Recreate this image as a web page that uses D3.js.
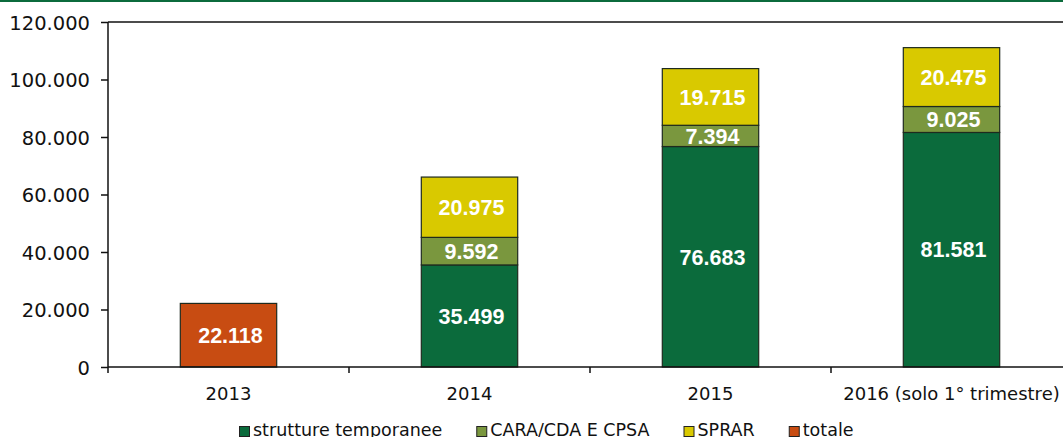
<!DOCTYPE html>
<html>
<head>
  <meta charset="utf-8">
  <style>
    body { margin: 0; background: #fff; }
    svg text { font-family: "DejaVu Sans", sans-serif; fill: #111; }
  </style>
  <title>Presenze nelle strutture di accoglienza</title>
</head>
<body>
  <script src="https://cdn.jsdelivr.net/npm/d3@7"></script>
  <script>
    // chart data
    var years = ["2013", "2014", "2015", "2016 (solo 1° trimestre)"];
    var series = ["strutture temporanee", "CARA/CDA E CPSA", "SPRAR", "totale"];
    var strutture = [0, 35499, 76683, 81581];
    var cara = [0, 9592, 7394, 9025];
    var sprar = [0, 20975, 19715, 20475];
    var totale = [22118, 0, 0, 0];
    var yTicks = [0, 20000, 40000, 60000, 80000, 100000, 120000];

    var colors = ["#0b6b3c", "#7a973e", "#d9c900", "#c84c12"];

    // plot box (note: "top" is reserved on window, so use a margin object)
    var W = 1063, H = 437;
    var plot = { left: 108, right: 1072, top: 22, bottom: 367 };

    var svg = d3.select("body").append("svg")
      .attr("width", W)
      .attr("height", H);

    // green rule at the top of the page
    svg.append("rect")
      .attr("x", 0).attr("y", 0)
      .attr("width", W).attr("height", 2)
      .attr("fill", "#0b6b3c");

    var x = d3.scaleBand()
      .domain(years)
      .range([plot.left, plot.right])
      .paddingInner(0.6)
      .paddingOuter(0.3);

    var y = d3.scaleLinear()
      .domain([0, 120000])
      .range([plot.bottom, plot.top]);

    var it = d3.formatLocale({ decimal: ",", thousands: ".", grouping: [3], currency: ["", ""] });
    var fmt = it.format(",d");

    // build rows for stacking
    var rows = years.map(function (yr, i) {
      return { year: yr, s0: strutture[i], s1: cara[i], s2: sprar[i], s3: totale[i] };
    });
    var stack = d3.stack().keys(["s0", "s1", "s2", "s3"]);
    var layers = stack(rows);

    var g = svg.selectAll("g.layer")
      .data(layers)
      .enter().append("g")
      .attr("class", "layer")
      .attr("fill", function (d, i) { return colors[i]; });

    g.selectAll("rect")
      .data(function (d) { return d.filter(function (p) { return p[1] - p[0] > 0; }); })
      .enter().append("rect")
      .attr("x", function (d) { return x(d.data.year); })
      .attr("y", function (d) { return y(d[1]); })
      .attr("width", x.bandwidth())
      .attr("height", function (d) { return y(d[0]) - y(d[1]); })
      .attr("stroke", "#1e2a1e")
      .attr("stroke-width", 1.2);

    // value labels
    g.selectAll("text")
      .data(function (d) { return d.filter(function (p) { return p[1] - p[0] > 0; }); })
      .enter().append("text")
      .attr("x", function (d) { return x(d.data.year) + x.bandwidth() / 2 + 2; })
      .attr("y", function (d) { return (y(d[0]) + y(d[1])) / 2; })
      .attr("dy", "0.36em")
      .attr("text-anchor", "middle")
      .style("font-family", "'Liberation Sans', Arial, sans-serif")
      .style("font-weight", "bold")
      .style("font-size", "21.5px")
      .style("fill", "#fff")
      .text(function (d) { return fmt(d[1] - d[0]); });

    // top border of plot
    svg.append("line")
      .attr("x1", plot.left).attr("x2", plot.right)
      .attr("y1", y(120000)).attr("y2", y(120000))
      .attr("stroke", "#111").attr("stroke-width", 1.5);

    // y axis
    var yAxis = d3.axisLeft(y)
      .tickValues(yTicks)
      .tickFormat(fmt)
      .tickSize(7)
      .tickSizeOuter(0)
      .tickPadding(11);

    var ya = svg.append("g")
      .attr("transform", "translate(" + plot.left + ",0)")
      .call(yAxis);
    ya.select(".domain").remove();
    ya.selectAll("line").attr("stroke", "#111").attr("stroke-width", 1.5);
    ya.selectAll("text")
      .style("font-size", "19.5px")
      .attr("dy", "0.38em");

    svg.append("line")
      .attr("x1", plot.left).attr("x2", plot.left)
      .attr("y1", plot.top).attr("y2", plot.bottom + 6)
      .attr("stroke", "#111").attr("stroke-width", 1.5);

    // x axis
    svg.append("line")
      .attr("x1", plot.left).attr("x2", plot.right)
      .attr("y1", plot.bottom).attr("y2", plot.bottom)
      .attr("stroke", "#111").attr("stroke-width", 1.5);

    var bounds = years.map(function (c) { return x(c) - x.paddingOuter() * x.step(); });
    svg.selectAll("line.xtick")
      .data(bounds.slice(1))
      .enter().append("line")
      .attr("class", "xtick")
      .attr("x1", function (d) { return d; })
      .attr("x2", function (d) { return d; })
      .attr("y1", plot.bottom).attr("y2", plot.bottom + 6)
      .attr("stroke", "#111").attr("stroke-width", 1.5);

    svg.selectAll("text.xlab")
      .data(years)
      .enter().append("text")
      .attr("class", "xlab")
      .attr("x", function (d) { return x(d) + x.bandwidth() / 2; })
      .attr("y", 400)
      .attr("text-anchor", "middle")
      .style("font-size", "18px")
      .text(function (d) { return d; });

    // legend
    var legend = svg.append("g").attr("transform", "translate(239,0)");
    var lx = 0;
    series.forEach(function (s, i) {
      var item = legend.append("g").attr("transform", "translate(" + lx + ",0)");
      item.append("rect")
        .attr("x", 0.5).attr("y", 426.5)
        .attr("width", 10).attr("height", 10)
        .attr("fill", colors[i])
        .attr("stroke", "#222").attr("stroke-width", 1);
      var t = item.append("text")
        .attr("x", 14).attr("y", 435.5)
        .style("font-size", "17.5px")
        .text(s);
      lx += 14 + t.node().getComputedTextLength() + 34;
    });
  </script>
</body>
</html>
